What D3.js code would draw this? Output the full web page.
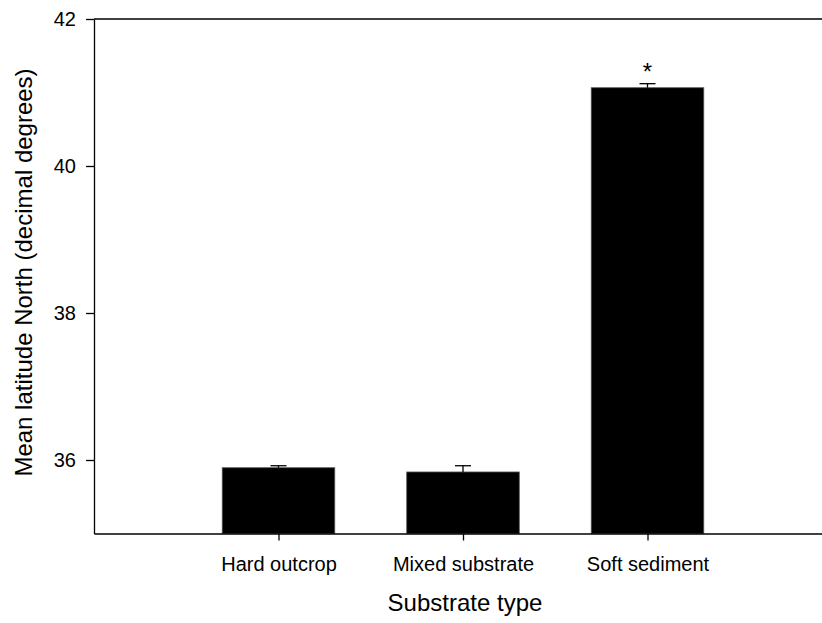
<!DOCTYPE html>
<html>
<head>
<meta charset="utf-8">
<script src="https://cdn.jsdelivr.net/npm/d3@7/dist/d3.min.js"></script>
<style>
  html, body { margin: 0; padding: 0; background: #fff; }
  svg { display: block; font-family: "Liberation Sans", Arial, sans-serif; }
</style>
</head>
<body>
<svg id="chart" width="822" height="623"></svg>
<script>
const categories = ["Hard outcrop", "Mixed substrate", "Soft sediment"];
const means = [35.895, 35.837, 41.065];
const se = [0.027, 0.085, 0.055];
const significant = [false, false, true];
const yTicks = [36, 38, 40, 42];

(function () {
const W = 822, H = 623;
const mLeft = 94, mTop = 19, mBottom = 533.5, mRight = 832;
const svg = d3.select("#chart");

const x = d3.scaleLinear().domain([0, 4]).range([mLeft, mRight]);
const y = d3.scaleLinear().domain([35, 42]).range([mBottom, mTop]);
const barHalf = 0.305;
const capHalf = 8;

const data = categories.map((c, i) => ({ c, i: i + 1, m: means[i], se: se[i], sig: significant[i] }));

// Bars
svg.append("g").selectAll("rect").data(data).join("rect")
  .attr("x", d => x(d.i - barHalf))
  .attr("width", d => x(d.i + barHalf) - x(d.i - barHalf))
  .attr("y", d => y(d.m))
  .attr("height", d => y(35) - y(d.m))
  .attr("fill", "#000")
  .attr("stroke", "#555")
  .attr("stroke-width", 0.8);

// Error bars (upper only)
const eb = svg.append("g").attr("stroke", "#000").attr("stroke-width", 1.3);
eb.selectAll("line.v").data(data).join("line").attr("class", "v")
  .attr("x1", d => x(d.i)).attr("x2", d => x(d.i))
  .attr("y1", d => y(d.m)).attr("y2", d => y(d.m + d.se));
eb.selectAll("line.c").data(data).join("line").attr("class", "c")
  .attr("x1", d => x(d.i) - capHalf).attr("x2", d => x(d.i) + capHalf)
  .attr("y1", d => y(d.m + d.se)).attr("y2", d => y(d.m + d.se));

// Significance asterisk
svg.append("g").selectAll("text").data(data.filter(d => d.sig)).join("text")
  .attr("x", d => x(d.i))
  .attr("y", d => y(d.m + d.se) - 4)
  .attr("text-anchor", "middle")
  .attr("font-size", 24)
  .attr("fill", "#000")
  .text("*");

// Top frame line
svg.append("line")
  .attr("x1", mLeft).attr("x2", W)
  .attr("y1", y(42)).attr("y2", y(42))
  .attr("stroke", "#000").attr("stroke-width", 1.3);

// Y axis
const yAxis = svg.append("g").attr("transform", `translate(${mLeft},0)`)
  .call(d3.axisLeft(y).tickValues(yTicks).tickSize(8).tickSizeOuter(0).tickPadding(10).tickFormat(d3.format("d")));
yAxis.select(".domain").attr("stroke", "#000").attr("stroke-width", 1.3);
yAxis.selectAll(".tick line").attr("stroke", "#000").attr("stroke-width", 1.3);
yAxis.selectAll(".tick text").attr("font-size", 20).attr("fill", "#000")
  .attr("font-family", "'Liberation Sans', Arial, sans-serif");

// X axis
const xAxis = svg.append("g").attr("transform", `translate(0,${mBottom})`)
  .call(d3.axisBottom(x).tickValues([1, 2, 3]).tickSize(7).tickSizeOuter(0).tickPadding(16)
    .tickFormat(v => categories[v - 1]));
xAxis.select(".domain").attr("stroke", "#000").attr("stroke-width", 1.3);
xAxis.selectAll(".tick line").attr("stroke", "#000").attr("stroke-width", 1.3);
xAxis.selectAll(".tick text").attr("font-size", 20).attr("fill", "#000")
  .attr("font-family", "'Liberation Sans', Arial, sans-serif");

// Axis titles
svg.append("text")
  .attr("x", 465).attr("y", 611)
  .attr("text-anchor", "middle")
  .attr("font-size", 24).attr("fill", "#000")
  .text("Substrate type");

svg.append("text")
  .attr("transform", "translate(32,272.5) rotate(-90)")
  .attr("text-anchor", "middle")
  .attr("font-size", 24).attr("fill", "#000")
  .text("Mean latitude North (decimal degrees)");
})();
</script>
</body>
</html>
